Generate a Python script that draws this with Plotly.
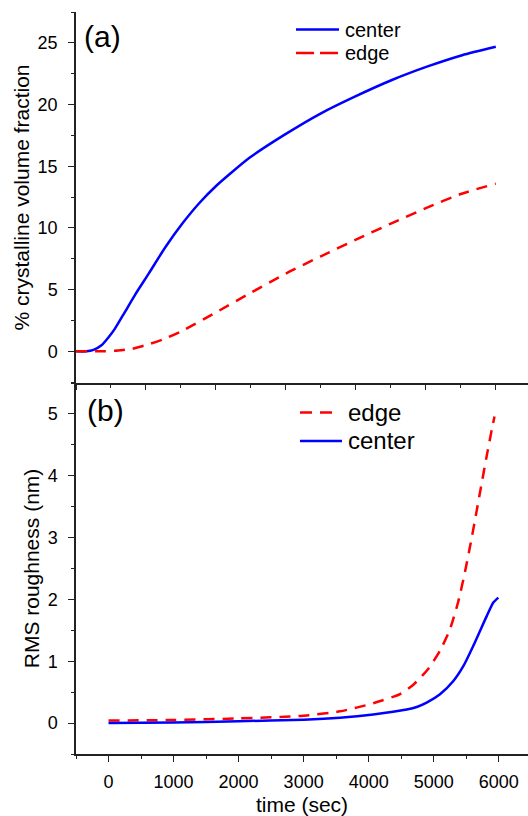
import plotly.graph_objects as go

# ---- data ----
t_a_center = [0, 147, 250, 364, 460, 557, 700, 846, 1039, 1279, 1520, 1760, 2002, 2484, 2965, 3495, 3977, 4507, 5036, 5519, 6000]
v_a_center = [0, 0, 0.12, 0.49, 1.1, 1.84, 3.2, 4.6, 6.3, 8.45, 10.35, 12.0, 13.4, 15.7, 17.5, 19.27, 20.62, 21.97, 23.11, 24.0, 24.68]

t_a_edge = [0, 400, 600, 800, 1000, 1250, 1500, 2000, 2500, 3000, 3500, 4000, 4500, 5000, 5500, 6000]
v_a_edge = [0, 0, 0.06, 0.2, 0.5, 0.98, 1.6, 3.15, 4.75, 6.3, 7.7, 9.05, 10.35, 11.6, 12.75, 13.59]

t_b_edge = [0, 1000, 2000, 3000, 3558, 4071, 4482, 4687, 4918, 5097, 5251, 5379, 5482, 5585, 5662, 5738, 5815, 5892, 5935]
v_b_edge = [0.04, 0.05, 0.075, 0.12, 0.19, 0.32, 0.47, 0.62, 0.88, 1.17, 1.52, 1.97, 2.45, 3.0, 3.44, 3.88, 4.32, 4.74, 4.96]

t_b_center = [0, 1000, 2000, 3000, 3558, 4071, 4585, 4750, 4892, 5097, 5302, 5455, 5609, 5712, 5815, 5917, 5994]
v_b_center = [0.0, 0.01, 0.03, 0.055, 0.087, 0.14, 0.22, 0.265, 0.33, 0.465, 0.68, 0.92, 1.25, 1.49, 1.73, 1.95, 2.03]

x_ticks = [0, 1000, 2000, 3000, 4000, 5000, 6000]
ya_ticks = [0, 5, 10, 15, 20, 25]
yb_ticks = [0, 1, 2, 3, 4, 5]

BLUE = "rgb(0,0,255)"
RED = "rgb(255,0,0)"
FONT = "Liberation Sans, Arial, Helvetica, sans-serif"
AX = "#222222"
DASH = "11px,8px"

W, H = 528, 816
ML, MR, MT, MB = 76, 0, 12, 62


def px(x):
    return (x - ML) / (W - ML - MR)


def py(y):
    return (H - MB - y) / (H - MT - MB)


fig = go.Figure()

# panel (a)
fig.add_trace(go.Scatter(x=t_a_center, y=v_a_center, mode="lines", name="center",
                         line=dict(color=BLUE, width=2.5, shape="spline", smoothing=0.6),
                         xaxis="x2", yaxis="y"))
fig.add_trace(go.Scatter(x=t_a_edge, y=v_a_edge, mode="lines", name="edge",
                         line=dict(color=RED, width=2.5, dash=DASH, shape="spline", smoothing=0.6),
                         xaxis="x2", yaxis="y"))
# panel (b)
fig.add_trace(go.Scatter(x=t_b_edge, y=v_b_edge, mode="lines", name="edge",
                         line=dict(color=RED, width=2.5, dash=DASH, shape="spline", smoothing=0.6),
                         xaxis="x", yaxis="y2"))
fig.add_trace(go.Scatter(x=t_b_center, y=v_b_center, mode="lines", name="center",
                         line=dict(color=BLUE, width=2.5, shape="spline", smoothing=0.6),
                         xaxis="x", yaxis="y2"))

common_axis = dict(showgrid=False, zeroline=False, showline=True, linecolor=AX, linewidth=1.5,
                   tickcolor=AX, tickwidth=1.2, automargin=False,
                   tickfont=dict(family=FONT, size=18, color="black"))

# hand-drawn legends (samples + labels) matching the reference style
shapes = [
    dict(type="line", xref="paper", yref="paper", x0=px(296), x1=px(339), y0=py(29.5), y1=py(29.5),
         line=dict(color=BLUE, width=2.5)),
    dict(type="line", xref="paper", yref="paper", x0=px(296), x1=px(339), y0=py(53), y1=py(53),
         line=dict(color=RED, width=2.5, dash="18px,6px")),
    dict(type="line", xref="paper", yref="paper", x0=px(300), x1=px(332), y0=py(412.5), y1=py(412.5),
         line=dict(color=RED, width=2.5, dash="12px,8px")),
    dict(type="line", xref="paper", yref="paper", x0=px(300), x1=px(342), y0=py(441), y1=py(441),
         line=dict(color=BLUE, width=2.5)),
]

annotations = [
    dict(text="center", x=px(344), y=py(30), font=dict(family=FONT, size=20, color="black")),
    dict(text="edge", x=px(344), y=py(53), font=dict(family=FONT, size=20, color="black")),
    dict(text="edge", x=px(347), y=py(412), font=dict(family=FONT, size=24, color="black")),
    dict(text="center", x=px(347), y=py(441), font=dict(family=FONT, size=24, color="black")),
    dict(text="(a)", x=px(83), y=py(37), font=dict(family=FONT, size=30, color="black")),
    dict(text="(b)", x=px(86), y=py(410), font=dict(family=FONT, size=30, color="black")),
]
for a in annotations:
    a.update(xref="paper", yref="paper", xanchor="left", yanchor="middle", showarrow=False,
             borderpad=0)

fig.update_layout(
    width=W, height=H,
    margin=dict(l=ML, r=MR, t=MT, b=MB),
    paper_bgcolor="white", plot_bgcolor="white",
    font=dict(family=FONT, color="black"),
    showlegend=False,
    xaxis=dict(domain=[0, 1], anchor="y2", range=[-500, 6450],
               tickvals=x_ticks, ticks="outside", ticklen=6, ticklabelstandoff=5,
               minor=dict(dtick=500, tick0=0, ticks="outside", ticklen=3, tickcolor=AX, tickwidth=1.2),
               title=dict(text="time (sec)", font=dict(family=FONT, size=21), standoff=7),
               **common_axis),
    xaxis2=dict(domain=[0, 1], anchor="y", range=[0, 6460],
                tickvals=x_ticks, ticks="outside", ticklen=5, showticklabels=False,
                minor=dict(dtick=500, tick0=0, ticks="outside", ticklen=3, tickcolor=AX, tickwidth=1.2),
                **common_axis),
    xaxis3=dict(overlaying="x2", anchor="y", side="top", range=[0, 6460],
                tickvals=x_ticks, ticks="inside", ticklen=3, showticklabels=False,
                minor=dict(dtick=500, tick0=0, ticks="inside", ticklen=2, tickcolor=AX, tickwidth=1.2),
                **common_axis),
    yaxis=dict(domain=[0.5, 1], anchor="x2", range=[-2.57, 27.5],
               tickvals=ya_ticks, ticks="outside", ticklen=6, ticklabelstandoff=7,
               minor=dict(dtick=2.5, tick0=0, ticks="outside", ticklen=3, tickcolor=AX, tickwidth=1.2),
               title=dict(text="% crystalline volume fraction", font=dict(family=FONT, size=21), standoff=2),
               **common_axis),
    yaxis2=dict(domain=[0, 0.5], anchor="x", range=[-0.5, 5.5],
                tickvals=yb_ticks, ticks="outside", ticklen=6, ticklabelstandoff=7,
                minor=dict(dtick=0.5, tick0=0, ticks="outside", ticklen=3, tickcolor=AX, tickwidth=1.2),
                title=dict(text="RMS roughness (nm)", font=dict(family=FONT, size=21), standoff=2),
                **common_axis),
    shapes=shapes,
    annotations=annotations,
)

fig.write_html("out.html", config={"displayModeBar": False},
               post_script="document.body.style.margin='0px';document.body.style.padding='0px';")
